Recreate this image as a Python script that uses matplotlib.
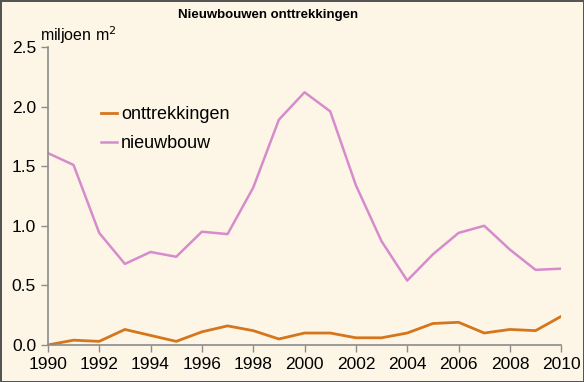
import matplotlib
matplotlib.use("Agg")
import matplotlib.pyplot as plt

plt.rcParams['font.family'] = ['Liberation Sans', 'DejaVu Sans']

# jaren en waarden (miljoen m2)
years = list(range(1990, 2011))
nieuwbouw = [1.61, 1.51, 0.94, 0.68, 0.78, 0.74, 0.95, 0.93, 1.32, 1.89, 2.12,
             1.96, 1.34, 0.87, 0.54, 0.76, 0.94, 1.00, 0.80, 0.63, 0.64]
onttrekkingen = [0.00, 0.04, 0.03, 0.13, 0.08, 0.03, 0.11, 0.16, 0.12, 0.05, 0.10,
                 0.10, 0.06, 0.06, 0.10, 0.18, 0.19, 0.10, 0.13, 0.12, 0.24]

bg = "#fdf6e6"
axis_col = "#8c8c8c"

fig = plt.figure(figsize=(5.84, 3.82), dpi=100, facecolor=bg,
                 edgecolor="#555555", linewidth=2)
ax = fig.add_axes([0.082, 0.097, 0.879, 0.780])
ax.set_facecolor(bg)

ax.plot(years, onttrekkingen, color="#d6761c", lw=2, label="onttrekkingen")
ax.plot(years, nieuwbouw, color="#d68ccc", lw=1.8, label="nieuwbouw")

ax.set_xlim(1990, 2010)
ax.set_ylim(0, 2.5)
ax.set_xticks(range(1990, 2011, 2))
ax.set_yticks([0, 0.5, 1.0, 1.5, 2.0, 2.5])
ax.set_yticklabels(["0.0", "0.5", "1.0", "1.5", "2.0", "2.5"])

for s in ["top", "right"]:
    ax.spines[s].set_visible(False)
for s in ["left", "bottom"]:
    ax.spines[s].set_color(axis_col)
    ax.spines[s].set_linewidth(1.2)
ax.tick_params(colors=axis_col, labelcolor="black", labelsize=12.5, length=5, width=1)

ax.legend(loc="upper left", bbox_to_anchor=(0.072, 0.855), frameon=False,
          fontsize=13, handlelength=0.9, handletextpad=0.2, labelspacing=0.65)

fig.text(0.305, 0.952, "Nieuwbouwen onttrekkingen", fontsize=9.5, fontweight="bold")
fig.text(0.068, 0.892, "miljoen m$^2$", fontsize=11.5)

fig.savefig("out.png", dpi=100, facecolor=bg, edgecolor="#555555")
